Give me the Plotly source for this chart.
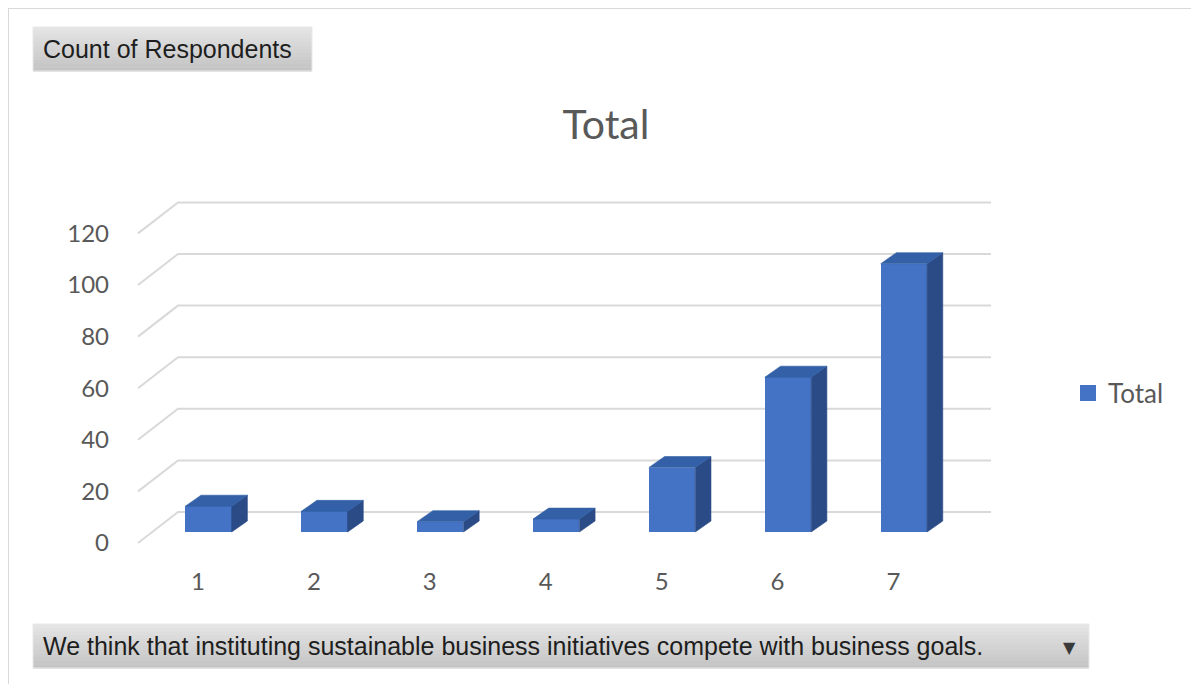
import plotly.graph_objects as go

# ---------------- data ----------------
categories = ["1", "2", "3", "4", "5", "6", "7"]
respondents = [10, 8, 4, 5, 25, 60, 104]
grid_values = [0, 20, 40, 60, 80, 100, 120]
series_name = "Total"
chart_title = "Total"
field_button = "Count of Respondents"
axis_button = "We think that instituting sustainable business initiatives compete with business goals."

# ---------------- geometry ----------------
W, H = 1199, 684
OFF = 8            # browser default body margin
L, R, T, B = 118, 1040, 190, 565
X0_PX = 208.5      # pixel of first category (bar front face centre)
CAT_PX = 115.9     # pixels per category
Y0_PX = 532        # pixel of value 0 at bar-front depth
VAL_PX = 2.58      # pixels per unit value

xpos = list(range(1, len(categories) + 1))
x_range = [1 + (L - X0_PX) / CAT_PX, 1 + (R - X0_PX) / CAT_PX]
y_range = [(Y0_PX - B) / VAL_PX, (Y0_PX - T) / VAL_PX]

BAR_W = 0.40
HW = BAR_W / 2
SIDE_DX = 15.7 / CAT_PX
SIDE_DY = 11.0 / VAL_PX
FRONT_DY = (Y0_PX - 543) / VAL_PX
BACK_DY = (Y0_PX - 512) / VAL_PX
FRONT_X = 1 + (138 - X0_PX) / CAT_PX
BACK_X = 1 + (178 - X0_PX) / CAT_PX
BACK_X_END = 1 + (991 - X0_PX) / CAT_PX
LABEL_DX = -10.5 / CAT_PX

FRONT_C = "#4472C4"
TOP_C = "#3360A6"
SIDE_C = "#2A4B86"
GRID_C = "#D9D9D9"
TEXT_C = "#595959"


def px_x(p):
    return (p - L) / (R - L)


def px_y(p):
    return (B - p) / (B - T)


fig = go.Figure()

# front faces
fig.add_trace(go.Bar(
    x=xpos, y=respondents, width=BAR_W, name=series_name,
    marker=dict(color=FRONT_C, line=dict(width=0)),
    showlegend=False, hoverinfo="y",
))

# side faces
sx, sy = [], []
for x, v in zip(xpos, respondents):
    xr = x + HW
    sx += [xr, xr + SIDE_DX, xr + SIDE_DX, xr, xr, None]
    sy += [0, SIDE_DY, v + SIDE_DY, v, 0, None]
fig.add_trace(go.Scatter(
    x=sx, y=sy, mode="lines", fill="toself", fillcolor=SIDE_C,
    line=dict(width=0.6, color=SIDE_C), showlegend=False, hoverinfo="skip",
))

# top faces
tx, ty = [], []
for x, v in zip(xpos, respondents):
    tx += [x - HW, x + HW, x + HW + SIDE_DX, x - HW + SIDE_DX, x - HW, None]
    ty += [v, v, v + SIDE_DY, v + SIDE_DY, v, None]
fig.add_trace(go.Scatter(
    x=tx, y=ty, mode="lines", fill="toself", fillcolor=TOP_C,
    line=dict(width=0.6, color=TOP_C), showlegend=False, hoverinfo="skip",
))

# legend entry
fig.add_trace(go.Scatter(
    x=[None], y=[None], mode="markers", name=series_name,
    marker=dict(symbol="square", size=16, color=FRONT_C),
))

shapes = []
# 3D gridlines (side wall diagonal + back wall)
for g in grid_values:
    path = (f"M {FRONT_X},{g + FRONT_DY} L {BACK_X},{g + BACK_DY} "
            f"L {BACK_X_END},{g + BACK_DY}")
    shapes.append(dict(type="path", xref="x", yref="y", path=path,
                       line=dict(color=GRID_C, width=2), layer="below"))

# chart-area border (top and left)
shapes.append(dict(type="line", xref="paper", yref="paper",
                   x0=px_x(8), x1=px_x(1199), y0=px_y(8), y1=px_y(8),
                   line=dict(color="#D9D9D9", width=2)))
shapes.append(dict(type="line", xref="paper", yref="paper",
                   x0=px_x(8), x1=px_x(8), y0=px_y(8), y1=px_y(684),
                   line=dict(color="#D9D9D9", width=2)))


def button(x0, y0, x1, y1, n=12):
    out = []
    top = (0xE4, 0xE4, 0xE4)
    bot = (0xC4, 0xC4, 0xC4)
    h = (y1 - y0) / n
    for i in range(n):
        t = i / (n - 1)
        c = tuple(round(a + (b - a) * t) for a, b in zip(top, bot))
        out.append(dict(type="rect", xref="paper", yref="paper",
                        x0=px_x(x0), x1=px_x(x1),
                        y0=px_y(y0 + i * h), y1=px_y(y0 + (i + 1) * h + 0.5),
                        fillcolor=f"rgb{c}", line=dict(width=0), layer="above"))
    out.append(dict(type="rect", xref="paper", yref="paper",
                    x0=px_x(x0), x1=px_x(x1), y0=px_y(y0), y1=px_y(y1),
                    fillcolor="rgba(0,0,0,0)",
                    line=dict(color="#E8E8E8", width=1), layer="above"))
    return out


shapes += button(33, 27, 312, 71)
shapes += button(33, 624, 1089, 668)

annotations = [
    dict(text=field_button, xref="paper", yref="paper", x=px_x(41), y=px_y(49),
         xanchor="left", yanchor="middle", showarrow=False,
         font=dict(family="Liberation Sans, Arial", size=25, color="#1E1E1E")),
    dict(text=axis_button, xref="paper", yref="paper", x=px_x(41), y=px_y(646),
         xanchor="left", yanchor="middle", showarrow=False,
         font=dict(family="Liberation Sans, Arial", size=25, color="#1E1E1E")),
    dict(text="▼", xref="paper", yref="paper", x=px_x(1069), y=px_y(647),
         xanchor="center", yanchor="middle", showarrow=False,
         font=dict(family="DejaVu Sans", size=16, color="#3A3A3A")),
]

fig.update_layout(
    width=W - OFF, height=H - OFF, autosize=False,
    margin=dict(l=L - OFF, r=W - R, t=T - OFF, b=H - B, pad=0),
    paper_bgcolor="white", plot_bgcolor="white",
    title=dict(text=chart_title, xref="container", yref="container",
               x=(606 - OFF) / (W - OFF), y=1 - (125 - OFF) / (H - OFF),
               xanchor="center", yanchor="middle",
               font=dict(family="Lato", size=41, color=TEXT_C)),
    xaxis=dict(range=x_range, showgrid=False, zeroline=False, showline=False,
               tickmode="array", tickvals=[x + LABEL_DX for x in xpos],
               ticktext=categories, ticks="",
               tickfont=dict(family="Lato", size=24, color=TEXT_C),
               fixedrange=True),
    yaxis=dict(range=y_range, showgrid=False, zeroline=False, showline=False,
               tickmode="array", tickvals=[g + FRONT_DY for g in grid_values],
               ticktext=[str(g) for g in grid_values], ticks="",
               ticklabelstandoff=8,
               tickfont=dict(family="Lato", size=24, color=TEXT_C),
               fixedrange=True),
    legend=dict(x=px_x(1068), y=px_y(393), xanchor="left", yanchor="middle",
                font=dict(family="Lato", size=26, color=TEXT_C),
                itemwidth=30, bgcolor="rgba(0,0,0,0)"),
    shapes=shapes,
    annotations=annotations,
    bargap=0,
)

fig.write_html("out.html")
